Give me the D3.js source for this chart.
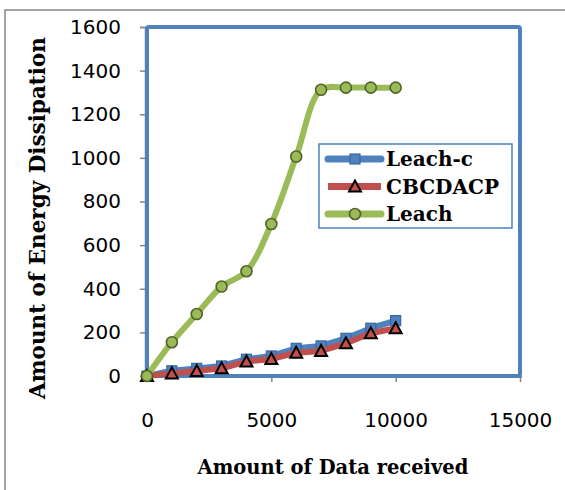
<!DOCTYPE html>
<html>
<head>
<meta charset="utf-8">
<script src="https://cdn.jsdelivr.net/npm/d3@7"></script>
<style>
  body { margin: 0; background: #fff; }
  svg { display: block; }
</style>
</head>
<body>
<div class="chart"></div>
<script>
// data
var xValues = [0, 1000, 2000, 3000, 4000, 5000, 6000, 7000, 8000, 9000, 10000];
var leachC  = [0, 24, 35, 46, 77, 92, 127, 138, 173, 219, 254];
var cbcdacp = [0, 12, 23, 35, 66, 78, 107, 115, 150, 196, 219];
var leach   = [0, 155, 284, 410, 480, 697, 1006, 1312, 1322, 1322, 1322];
var xTicks = [0, 5000, 10000, 15000];
var yTicks = [0, 200, 400, 600, 800, 1000, 1200, 1400, 1600];
var seriesNames = ['Leach-c', 'CBCDACP', 'Leach'];

var W = 565, H = 490;
var m = {left: 147, top: 27, right: 45, bottom: 114};
var pw = W - m.left - m.right, ph = H - m.top - m.bottom;

var svg = d3.select('.chart').append('svg')
    .attr('width', W)
    .attr('height', H);

// outer chart frame (runs off the right/bottom edge)
svg.append('rect')
    .attr('x', 5).attr('y', 10)
    .attr('width', 600).attr('height', 600)
    .attr('fill', '#fff')
    .attr('stroke', '#868686')
    .attr('stroke-width', 1.5);

var x = d3.scaleLinear().domain([0, 15000]).range([m.left, m.left + pw]);
var y = d3.scaleLinear().domain([0, 1600]).range([m.top + ph, m.top]);

var tickFont = '"DejaVu Sans", sans-serif';
var titleFont = '"DejaVu Serif", serif';

// axes (grey) with Excel-like outside ticks
var xAxis = svg.append('g')
    .attr('transform', 'translate(0,' + y(0) + ')')
    .call(d3.axisBottom(x).tickValues(xTicks).tickSize(6).tickPadding(31).tickFormat(d3.format('d')));
var yAxis = svg.append('g')
    .attr('transform', 'translate(' + (x(0) - 2) + ',0)')
    .call(d3.axisLeft(y).tickValues(yTicks).tickSize(5).tickPadding(19).tickFormat(d3.format('d')));

[xAxis, yAxis].forEach(function (g) {
    g.selectAll('path, line').attr('stroke', '#868686').attr('stroke-width', 1.5);
    g.selectAll('text')
        .attr('fill', '#000')
        .style('font-family', tickFont)
        .style('font-size', '20px');
});
xAxis.select('.domain').attr('d', 'M' + (x(0) - 4) + ',1H' + (x(15000) + 2));

// plot area border
svg.append('rect')
    .attr('x', x(0)).attr('y', y(1600))
    .attr('width', x(15000) - x(0))
    .attr('height', y(0) - y(1600))
    .attr('rx', 2)
    .attr('fill', 'none')
    .attr('stroke', '#4F81BD')
    .attr('stroke-width', 4);

var series = [
    {name: seriesNames[0], values: leachC, color: '#4F81BD', marker: 'square', mfill: '#4F81BD', mstroke: '#3A67A0', curve: d3.curveLinear},
    {name: seriesNames[1], values: cbcdacp, color: '#C0504D', marker: 'triangle', mfill: '#C0504D', mstroke: '#000', curve: d3.curveLinear},
    {name: seriesNames[2], values: leach, color: '#9BBB59', marker: 'circle', mfill: '#9BBB59', mstroke: '#4F6228', curve: d3.curveCatmullRom.alpha(0.5)}
];

function drawMarker(g, type, fill, stroke) {
    if (type === 'square') {
        g.append('rect').attr('x', -5).attr('y', -5).attr('width', 10).attr('height', 10)
            .attr('fill', fill).attr('stroke', stroke).attr('stroke-width', 1.2);
    } else if (type === 'triangle') {
        g.append('path').attr('d', 'M0,-6L6,5L-6,5Z')
            .attr('fill', fill).attr('stroke', stroke).attr('stroke-width', 2)
            .attr('stroke-linejoin', 'miter');
    } else {
        g.append('circle').attr('r', 5.5)
            .attr('fill', fill).attr('stroke', stroke).attr('stroke-width', 1.6);
    }
}

series.forEach(function (s) {
    var pts = xValues.map(function (xv, i) { return [xv, s.values[i]]; });
    var line = d3.line()
        .x(function (d) { return x(d[0]); })
        .y(function (d) { return y(d[1]); })
        .curve(s.curve);
    svg.append('path')
        .datum(pts)
        .attr('fill', 'none')
        .attr('stroke', s.color)
        .attr('stroke-width', 6)
        .attr('stroke-linejoin', 'round')
        .attr('stroke-linecap', 'round')
        .attr('d', line);
    svg.selectAll(null)
        .data(pts)
        .enter()
        .append('g')
        .attr('transform', function (d) { return 'translate(' + x(d[0]) + ',' + y(d[1]) + ')'; })
        .each(function () { drawMarker(d3.select(this), s.marker, s.mfill, s.mstroke); });
});

// legend
var lg = svg.append('g').attr('transform', 'translate(319,144)');
lg.append('rect')
    .attr('width', 193).attr('height', 84)
    .attr('fill', '#fff')
    .attr('stroke', '#4F81BD')
    .attr('stroke-width', 1.5);
series.forEach(function (s, i) {
    var row = lg.append('g').attr('transform', 'translate(0,' + (15 + i * 27.5) + ')');
    row.append('line')
        .attr('x1', 9).attr('x2', 62)
        .attr('stroke', s.color)
        .attr('stroke-width', 7)
        .attr('stroke-linecap', s.marker === 'triangle' ? 'butt' : 'round');
    drawMarker(row.append('g').attr('transform', 'translate(36,0)'), s.marker, s.mfill, s.mstroke);
    row.append('text')
        .attr('x', 67).attr('y', 0)
        .attr('dy', '0.36em')
        .style('font-family', titleFont)
        .style('font-weight', 'bold')
        .style('font-size', '20px')
        .text(s.name);
});

// axis titles
svg.append('text')
    .attr('transform', 'translate(37,218) rotate(-90)')
    .attr('text-anchor', 'middle')
    .attr('dy', '0.36em')
    .style('font-family', titleFont)
    .style('font-weight', 'bold')
    .style('font-size', '21.5px')
    .text('Amount of Energy Dissipation');
svg.append('text')
    .attr('x', 333).attr('y', 467)
    .attr('text-anchor', 'middle')
    .attr('dy', '0.36em')
    .style('font-family', titleFont)
    .style('font-weight', 'bold')
    .style('font-size', '19.5px')
    .text('Amount of Data received');
</script>
</body>
</html>
